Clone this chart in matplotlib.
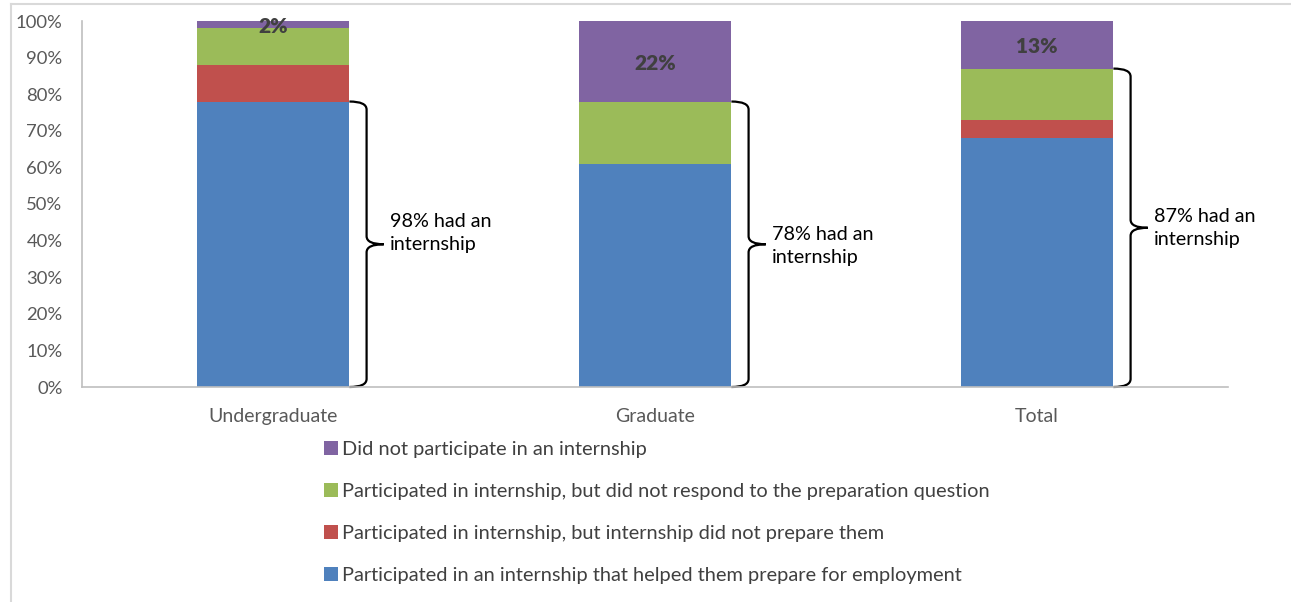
import matplotlib

matplotlib.use("Agg")
import matplotlib.pyplot as plt
from matplotlib.lines import Line2D
from matplotlib.patches import PathPatch, Patch
from matplotlib.path import Path

plt.rcParams["font.family"] = ["Lato", "DejaVu Sans"]

categories = ["Undergraduate", "Graduate", "Total"]
helped = [78, 61, 68]
not_prepared = [10, 0, 5]
no_response = [10, 17, 14]
no_internship = [2, 22, 13]

series_labels = [
    "Participated in an internship that helped them prepare for employment",
    "Participated in internship, but internship did not prepare them",
    "Participated in internship, but did not respond to the preparation question",
    "Did not participate in an internship",
]
colors = ["#4F81BD", "#C0504D", "#9BBB59", "#8064A2"]

had_internship = [98, 78, 87]
bracket_top = [78, 78, 87]
note_y = [42, 38.5, 43.5]

W, H = 1291, 602
fig = plt.figure(figsize=(W / 100, H / 100), dpi=100)
ax = fig.add_axes([82 / W, 1 - 387 / H, (1228 - 82) / W, (387 - 21) / H])

x = list(range(len(categories)))
bar_width = 0.4
bottom = [0] * len(categories)
for values, color in zip([helped, not_prepared, no_response, no_internship], colors):
    ax.bar(x, values, bar_width, bottom=bottom, color=color, edgecolor="none")
    bottom = [b + v for b, v in zip(bottom, values)]

# percentage labels on the purple segments
for i, v in enumerate(no_internship):
    base = 100 - v
    y = base + v / 2 - 0.5 if v > 5 else 98.4
    ax.text(i, y, f"{v}%", ha="center", va="center", fontsize=15,
            fontweight="heavy", color="#404040")


def brace(ax, x0, top, color="black"):
    w = 0.045
    t = 0.09
    r = 2.2
    mid = top / 2
    x1 = x0 + w
    verts = [
        (x0, top), (x1, top), (x1, top - r),
        (x1, mid + r),
        (x1, mid), (x0 + t, mid),
        (x1, mid), (x1, mid - r),
        (x1, r),
        (x1, 0), (x0, 0),
    ]
    codes = [
        Path.MOVETO, Path.CURVE3, Path.CURVE3,
        Path.LINETO,
        Path.CURVE3, Path.CURVE3,
        Path.CURVE3, Path.CURVE3,
        Path.LINETO,
        Path.CURVE3, Path.CURVE3,
    ]
    ax.add_patch(PathPatch(Path(verts, codes), facecolor="none",
                           edgecolor=color, lw=1.6, clip_on=False))


for i in x:
    edge = i + bar_width / 2
    brace(ax, edge, bracket_top[i])
    ax.text(edge + 0.107, note_y[i], f"{had_internship[i]}% had an\ninternship",
            ha="left", va="center", fontsize=14.2, color="black", linespacing=1.45)

ax.set_xlim(-0.5, 2.5)
ax.set_ylim(0, 100)
ax.set_xticks(x)
ax.set_xticklabels(categories)
ax.set_yticks(range(0, 101, 10))
ax.set_yticklabels([f"{v}%" for v in range(0, 101, 10)])
ax.tick_params(length=0, colors="#595959")
ax.tick_params(axis="x", pad=15, labelsize=14)
ax.tick_params(axis="y", pad=14, labelsize=13.3)
for side in ["top", "right"]:
    ax.spines[side].set_visible(False)
for side in ["left", "bottom"]:
    ax.spines[side].set_color("#BFBFBF")
    ax.spines[side].set_linewidth(1.2)

handles = [Patch(facecolor=c, edgecolor="none") for c in colors][::-1]
fig.legend(handles, series_labels[::-1], loc="upper left",
           bbox_to_anchor=(324 / W, 1 - 441 / H), frameon=False,
           fontsize=14.4, handlelength=0.7, handleheight=0.7,
           handletextpad=0.2, labelspacing=1.25, borderpad=0,
           borderaxespad=0, labelcolor="#404040")

# outer chart frame
fig.add_artist(Line2D([11 / W, 1], [1 - 4 / H, 1 - 4 / H], color="#D9D9D9", lw=1.5))
fig.add_artist(Line2D([11 / W, 11 / W], [0, 1 - 4 / H], color="#D9D9D9", lw=1.5))

fig.savefig("out.png", dpi=100)
plt.close(fig)
